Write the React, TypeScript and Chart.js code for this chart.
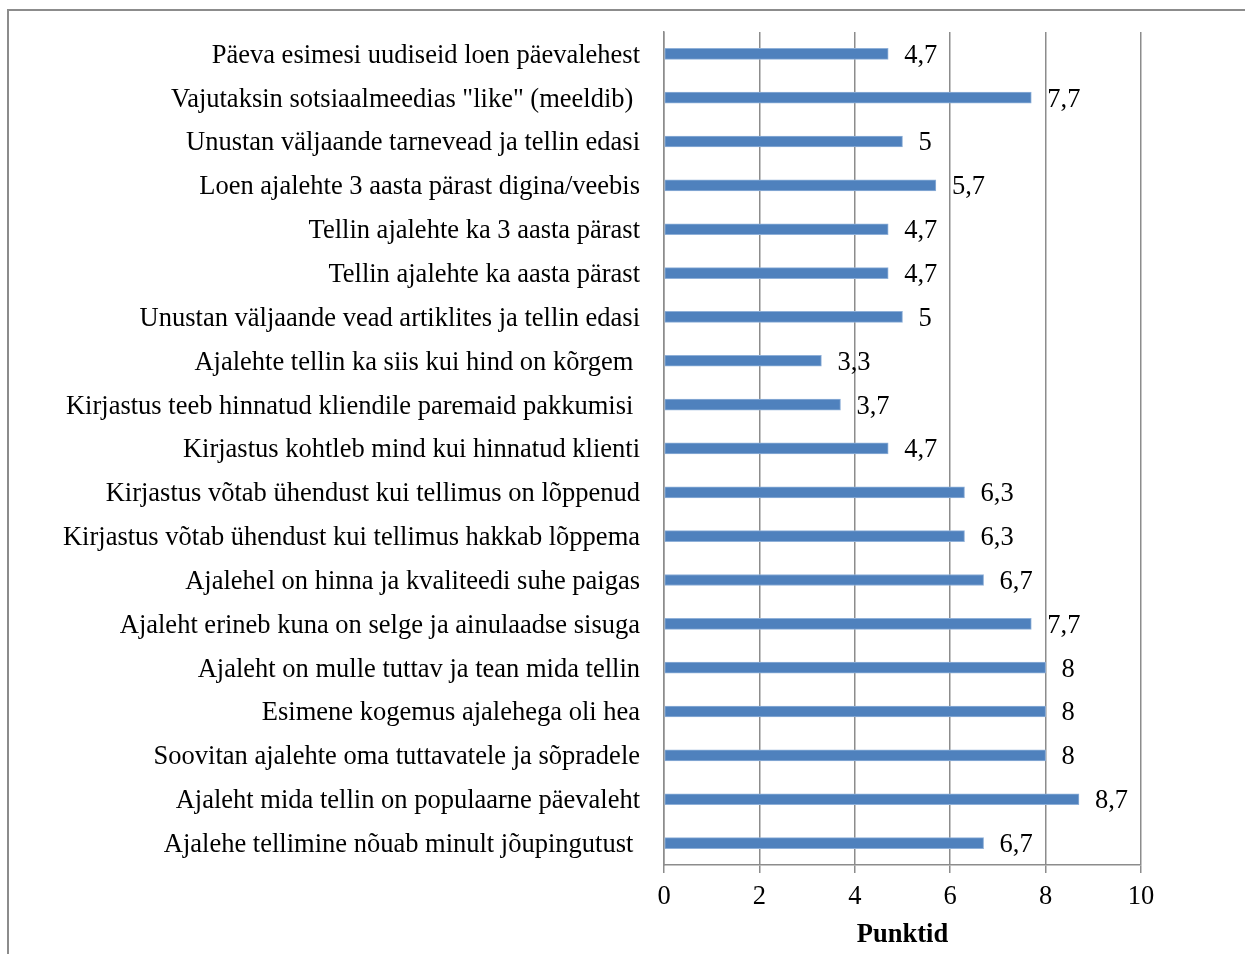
import React, { useEffect, useRef } from "react";
import { Chart, registerables } from "chart.js";

Chart.register(...registerables);

const categories: string[] = [
  "Päeva esimesi uudiseid loen päevalehest",
  "Vajutaksin sotsiaalmeedias \"like\" (meeldib) ",
  "Unustan väljaande tarnevead ja tellin edasi",
  "Loen ajalehte 3 aasta pärast digina/veebis",
  "Tellin ajalehte ka 3 aasta pärast",
  "Tellin ajalehte ka aasta pärast",
  "Unustan väljaande vead artiklites ja tellin edasi",
  "Ajalehte tellin ka siis kui hind on kõrgem ",
  "Kirjastus teeb hinnatud kliendile paremaid pakkumisi ",
  "Kirjastus kohtleb mind kui hinnatud klienti",
  "Kirjastus võtab ühendust kui tellimus on lõppenud",
  "Kirjastus võtab ühendust kui tellimus hakkab lõppema",
  "Ajalehel on hinna ja kvaliteedi suhe paigas",
  "Ajaleht erineb kuna on selge ja ainulaadse sisuga",
  "Ajaleht on mulle tuttav ja tean mida tellin",
  "Esimene kogemus ajalehega oli hea",
  "Soovitan ajalehte oma tuttavatele ja sõpradele",
  "Ajaleht mida tellin on populaarne päevaleht",
  "Ajalehe tellimine nõuab minult jõupingutust ",
];

const scores: number[] = [
  4.7, 7.7, 5, 5.7, 4.7, 4.7, 5, 3.3, 3.7, 4.7, 6.3, 6.3, 6.7, 7.7, 8, 8, 8, 8.7, 6.7,
];

const axisTitle = "Punktid";

const FONT = "'Liberation Serif', 'Times New Roman', serif";
const FONT_SIZE = 26.5;
const GRID_COLOR = "#8c8c8c";

const fmt = (v: number) => String(v).replace(".", ",");

// Outer frame around the figure
const framePlugin = {
  id: "frame",
  beforeDraw(chart: any) {
    const ctx = chart.ctx;
    ctx.save();
    ctx.strokeStyle = "#8c8c8c";
    ctx.lineWidth = 2;
    ctx.strokeRect(8, 10, chart.width + 20, chart.height + 20);
    ctx.restore();
  },
};

// Value labels to the right of each bar
const valueLabels = {
  id: "valueLabels",
  afterDatasetsDraw(chart: any) {
    const ctx = chart.ctx;
    const meta = chart.getDatasetMeta(0);
    ctx.save();
    ctx.font = `${FONT_SIZE}px ${FONT}`;
    ctx.fillStyle = "#000";
    ctx.textAlign = "left";
    ctx.textBaseline = "middle";
    meta.data.forEach((bar: any, i: number) => {
      ctx.fillText(fmt(scores[i]), bar.x + 16, bar.y + 2);
    });
    ctx.restore();
  },
};

export default function App() {
  const ref = useRef<HTMLCanvasElement>(null);

  useEffect(() => {
    if (!ref.current) return;
    const chart = new Chart(ref.current, {
      type: "bar",
      data: {
        labels: categories,
        datasets: [
          {
            data: scores,
            backgroundColor: "#4f81bd",
            borderColor: "#8fb0d8",
            borderWidth: 1,
            borderSkipped: false,
            barThickness: 11,
          },
        ],
      },
      options: {
        indexAxis: "y",
        animation: false,
        responsive: false,
        maintainAspectRatio: false,
        layout: { padding: { left: 0, right: 104, top: 26, bottom: 2 } },
        plugins: {
          legend: { display: false },
          tooltip: { enabled: false },
        },
        scales: {
          x: {
            min: 0,
            max: 10,
            ticks: {
              stepSize: 2,
              color: "#000",
              padding: 8,
              font: { family: FONT, size: FONT_SIZE },
            },
            grid: {
              color: GRID_COLOR,
              lineWidth: 1.5,
              tickLength: 8,
              drawOnChartArea: true,
            },
            border: { display: true, color: GRID_COLOR, width: 1.5 },
            title: {
              display: true,
              text: axisTitle,
              color: "#000",
              font: { family: FONT, size: FONT_SIZE, weight: "bold" },
              padding: { top: 4, bottom: 1 },
            },
            afterFit(scale: any) {
              scale.height = 87;
            },
          },
          y: {
            ticks: {
              color: "#000",
              padding: 16,
              labelOffset: 2,
              autoSkip: false,
              font: { family: FONT, size: FONT_SIZE },
            },
            grid: { display: false },
            border: { display: true, color: GRID_COLOR, width: 1.5 },
            afterFit(scale: any) {
              scale.width = 664;
            },
          },
        },
      },
      plugins: [framePlugin, valueLabels],
    } as any);
    return () => chart.destroy();
  }, []);

  return (
    <div style={{ position: "absolute", left: 0, top: 0, width: 1245, height: 954, background: "#fff" }}>
      <canvas ref={ref} width={1245} height={954} style={{ display: "block" }} />
    </div>
  );
}
